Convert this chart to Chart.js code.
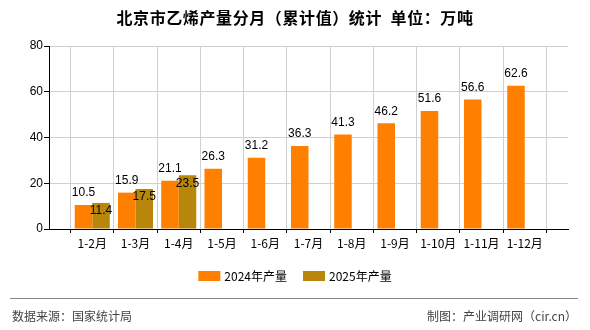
<!DOCTYPE html>
<html>
<head>
<meta charset="utf-8">
<script src="https://cdn.jsdelivr.net/npm/chart.js@4.4.1/dist/chart.umd.min.js"></script>
<style>
html, body { margin: 0; padding: 0; background: #fff; }
#wrap { width: 590px; height: 330px; position: relative; }
</style>
</head>
<body>
<div id="wrap"><canvas id="chart"></canvas></div>
<script>
// data
const months = ['1-2月', '1-3月', '1-4月', '1-5月', '1-6月', '1-7月', '1-8月', '1-9月', '1-10月', '1-11月', '1-12月'];
const output2024 = [10.5, 15.9, 21.1, 26.3, 31.2, 36.3, 41.3, 46.2, 51.6, 56.6, 62.6];
const output2025 = [11.4, 17.5, 23.5];
const yTicks = [0, 20, 40, 60, 80];
const seriesNames = ['2024年产量', '2025年产量'];
const seriesColors = ['#ff8000', '#b8860b'];
const titleText = '北京市乙烯产量分月（累计值）统计  单位：万吨';
const sourceText = '数据来源：国家统计局';
const creditText = '制图：产业调研网（cir.cn）';

const cjk = '"Noto Sans CJK SC", "Liberation Sans", sans-serif';

// empty slot on each side so the groups sit on the grid lines
const labels = [''].concat(months, ['']);
const d2024 = [null].concat(output2024, [null]);
const d2025 = [null].concat(months.map((m, i) => i < output2025.length ? output2025[i] : null), [null]);

const extras = {
    id: 'extras',
    afterDatasetsDraw(chart) {
        const ctx = chart.ctx;
        ctx.save();
        ctx.font = '12px "Liberation Sans", sans-serif';
        ctx.fillStyle = '#000';
        ctx.textAlign = 'center';
        ctx.textBaseline = 'middle';
        chart.data.datasets.forEach((ds, di) => {
            const meta = chart.getDatasetMeta(di);
            meta.data.forEach((bar, i) => {
                const v = ds.data[i];
                if (v == null) return;
                const y = di === 0 ? bar.y - 12 : bar.y + 8;
                ctx.fillText(v.toFixed(1), bar.x, y);
            });
        });
        ctx.restore();
    },
    afterDraw(chart) {
        const ctx = chart.ctx;
        const W = chart.width;
        ctx.save();

        // title
        ctx.font = 'bold 16px ' + cjk;
        ctx.letterSpacing = '0.6px';
        ctx.fillStyle = '#000';
        ctx.textAlign = 'center';
        ctx.textBaseline = 'middle';
        ctx.fillText(titleText, W / 2, 18);
        ctx.letterSpacing = '0px';

        // legend
        ctx.font = '12px ' + cjk;
        const boxW = 22, boxH = 10, gap = 4, itemGap = 16;
        const widths = seriesNames.map(n => boxW + gap + ctx.measureText(n).width);
        const total = widths.reduce((a, b) => a + b, 0) + itemGap * (seriesNames.length - 1);
        let x = W / 2 - total / 2;
        const ly = 276;
        ctx.textAlign = 'left';
        seriesNames.forEach((n, i) => {
            ctx.fillStyle = seriesColors[i];
            ctx.fillRect(x, ly - boxH / 2, boxW, boxH);
            ctx.fillStyle = '#000';
            ctx.fillText(n, x + boxW + gap, ly);
            x += widths[i] + itemGap;
        });

        // footer
        ctx.strokeStyle = '#888';
        ctx.lineWidth = 1;
        ctx.beginPath();
        ctx.moveTo(10, 298.5);
        ctx.lineTo(578, 298.5);
        ctx.stroke();
        ctx.fillStyle = '#444';
        ctx.font = '12px ' + cjk;
        ctx.textAlign = 'left';
        ctx.fillText(sourceText, 12, 316);
        ctx.textAlign = 'right';
        ctx.fillText(creditText, 577, 316);

        ctx.restore();
    }
};

new Chart(document.getElementById('chart'), {
    type: 'bar',
    data: {
        labels: labels,
        datasets: [
            { label: seriesNames[0], data: d2024, backgroundColor: seriesColors[0], borderWidth: 0 },
            { label: seriesNames[1], data: d2025, backgroundColor: seriesColors[1], borderWidth: 0 }
        ]
    },
    options: {
        responsive: true,
        maintainAspectRatio: false,
        animation: false,
        categoryPercentage: 0.81,
        barPercentage: 1,
        layout: { padding: { top: 46, right: 22, left: 0, bottom: 0 } },
        plugins: {
            legend: { display: false },
            title: { display: false },
            tooltip: { enabled: false }
        },
        scales: {
            x: {
                offset: false,
                grid: { color: '#d0d0d0', tickLength: 4, tickColor: '#000' },
                border: { color: '#000' },
                ticks: {
                    padding: 3,
                    color: '#000',
                    maxRotation: 0,
                    autoSkip: false,
                    font: { family: cjk, size: 12 }
                },
                afterFit(s) { s.height = 101; }
            },
            y: {
                min: yTicks[0],
                max: yTicks[yTicks.length - 1],
                grid: { color: '#d0d0d0', tickLength: 5, tickColor: '#000' },
                border: { color: '#000' },
                ticks: {
                    stepSize: yTicks[1] - yTicks[0],
                    padding: 1,
                    color: '#000',
                    font: { family: '"Liberation Sans", sans-serif', size: 12 }
                },
                afterFit(s) { s.width = 49; }
            }
        }
    },
    plugins: [extras]
});
</script>
</body>
</html>
